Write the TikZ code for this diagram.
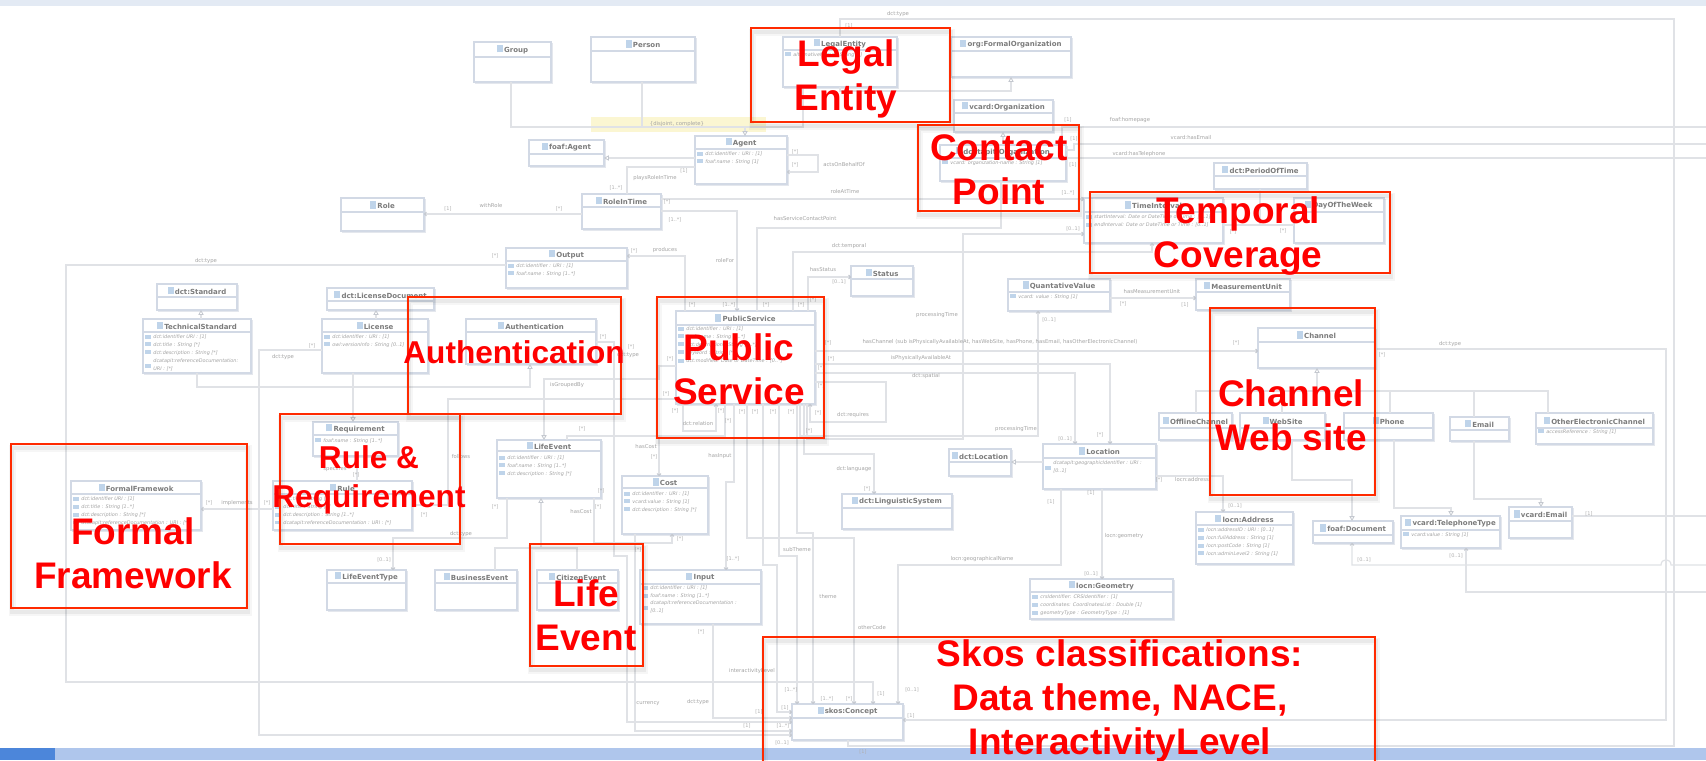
\documentclass[tikz,border=0pt]{standalone}
\usepackage{fontspec}
\setmainfont{DejaVu Sans}
\newfontfamily\redfont{Liberation Sans}
\usetikzlibrary{arrows.meta}
\definecolor{barTop}{HTML}{E3EAF4}
\definecolor{barBot}{HTML}{AFC6EC}
\definecolor{barLeft}{HTML}{4C86DA}
\definecolor{boxEdge}{HTML}{D2D9E5}
\definecolor{boxShade}{HTML}{E4E7ED}
\definecolor{connC}{HTML}{E0E2E6}
\definecolor{arrC}{HTML}{C4C8CF}
\definecolor{iconC}{HTML}{BFD4EA}
\definecolor{titleC}{HTML}{7C7C7C}
\definecolor{attrC}{HTML}{A2A2A2}
\definecolor{labC}{HTML}{A4A4A4}
\definecolor{multC}{HTML}{AFAFAF}
\definecolor{redBox}{HTML}{FF2A00}
\definecolor{noteC}{HTML}{FBF6D2}
\newcount\autonum
\newcommand\ticon{{\color{iconC}\rule{3pt}{3.6pt}}\hspace{.6pt}}
\newcommand\aicon{{\color{iconC}\rule{2.6pt}{2pt}}\hspace{1.4pt}}
\newcommand\cls[7]{%
  \fill[boxShade] (#2+1,#3+1) rectangle (#4+1.6,#5+1.8);
  \node[clsbox,anchor=north west,minimum width={(#4-#2)*0.5pt},minimum height={(#5-#3)*0.5pt}] (#1) at (#2,#3) {};
  \draw[boxEdge,line width=.6pt] (#2,#6) -- (#4,#6);
  \node[clstitle] (#1t) at ({(#2+#4)/2},{(#3+#6)/2}) {\ticon #7};
}
\newcommand\att[3]{\global\advance\autonum by 1
  \node[attrtext] (at\the\autonum) at (#1+2,#2) {\aicon #3};}
\newcommand\rl[3]{\global\advance\autonum by 1
  \node[rellab] (rl\the\autonum) at (#1,#2) {#3};}
\newcommand\ml[3]{\global\advance\autonum by 1
  \node[multlab] (ml\the\autonum) at (#1,#2) {#3};}
\newcommand\redrect[5]{%
  \draw[black,opacity=.035,line width=3.5pt] (#2+1,#3+4) rectangle (#4+1,#5+4);
  \draw[black,opacity=.05,line width=1.8pt] (#2+1,#3+4) rectangle (#4+1,#5+4);
  \node[redframe,anchor=north west,minimum width={(#4-#2)*0.5pt},minimum height={(#5-#3)*0.5pt}] (#1) at (#2,#3) {};
}
\tikzset{
  clsbox/.style={draw=boxEdge,fill=white,line width=.6pt,inner sep=0pt,outer sep=0pt},
  clstitle/.style={inner sep=0pt,text=titleC,font=\fontsize{3.5}{4}\selectfont\bfseries},
  attrtext/.style={inner sep=0pt,anchor=west,text=attrC,font=\fontsize{2.45}{4}\selectfont\itshape,align=left},
  rellab/.style={inner sep=0pt,text=labC,font=\fontsize{2.65}{3.2}\selectfont},
  multlab/.style={inner sep=0pt,text=multC,font=\fontsize{2.5}{3}\selectfont},
  conn/.style={draw=connC,line width=.6pt},
  gen/.style={conn,-{Triangle[color=arrC,fill=white,length=2.4pt,width=2.6pt,line width=.4pt]}},
  asc/.style={conn,-{To[length=1.4pt,width=2.2pt,color=arrC]}},
  redframe/.style={draw=redBox,line width=.95pt,inner sep=0pt,outer sep=0pt},
  redtext/.style={text=red,inner sep=0pt,align=center,font=\redfont\bfseries\fontsize{18.5}{22}\selectfont},
  redsmall/.style={text=red,inner sep=0pt,align=center,font=\redfont\bfseries\fontsize{15.8}{19.4}\selectfont},
}
\begin{document}
\begin{tikzpicture}[x=.5pt,y=-.5pt]
\useasboundingbox (0,0) rectangle (1706,760);
\clip (0,0) rectangle (1706,760);
\fill[white] (0,0) rectangle (1706,760);
\fill[barTop] (0,0) rectangle (1706,6);
\fill[barBot] (0,748) rectangle (1706,760);
\fill[barLeft] (0,748) rectangle (55,760);
\fill[noteC] (591,117) rectangle (766,132);
\node[rellab,text=titleC!70] (noteText) at (677,124) {\{disjoint, complete\}};

% ---- classes
\cls{Group}{474}{42}{551}{82}{57}{Group}
\cls{Person}{591}{37}{695}{82}{51}{Person}
\cls{LegalEnt}{783}{37}{897}{87}{50}{LegalEntity}
\cls{FormalOrg}{951}{37}{1071}{77}{51}{org:FormalOrganization}
\cls{VcardOrg}{954}{100}{1053}{132}{113}{vcard:Organization}
\cls{ContactP}{940}{145}{1066}{181}{158}{dcatapit:Organization}
\cls{Agent}{695}{136}{787}{184}{149}{Agent}
\cls{FoafAgent}{529}{140}{604}{166}{154}{foaf:Agent}
\cls{RoleTime}{582}{194}{661}{229}{207}{RoleInTime}
\cls{Role}{341}{198}{424}{231}{212}{Role}
\cls{Output}{506}{248}{627}{288}{261}{Output}
\cls{DctStd}{157}{284}{237}{310}{297}{dct:Standard}
\cls{LicDoc}{327}{288}{434}{310}{301}{dct:LicenseDocument}
\cls{TechStd}{143}{319}{251}{373}{332}{TechnicalStandard}
\cls{License}{322}{319}{428}{373}{332}{License}
\cls{Auth}{466}{319}{596}{364}{332}{Authentication}
\cls{PubServ}{676}{311}{815}{404}{325}{PublicService}
\cls{Status}{851}{266}{913}{296}{279}{Status}
\cls{TimeInt}{1084}{198}{1223}{243}{212}{TimeInterval}
\cls{Period}{1214}{163}{1307}{189}{176}{dct:PeriodOfTime}
\cls{DayWeek}{1294}{198}{1384}{243}{212}{DayOfTheWeek}
\cls{QuantV}{1008}{279}{1110}{311}{292}{QuantativeValue}
\cls{MeasU}{1196}{279}{1290}{310}{292}{MeasurementUnit}
\cls{Channel}{1258}{328}{1375}{368}{342}{Channel}
\cls{Offline}{1159}{413}{1232}{440}{428}{OfflineChannel}
\cls{WebSite}{1240}{413}{1325}{440}{428}{WebSite}
\cls{Phone}{1344}{413}{1433}{440}{428}{Phone}
\cls{Email}{1450}{417}{1509}{441}{430}{Email}
\cls{OtherCh}{1536}{413}{1653}{444}{428}{OtherElectronicChannel}
\cls{Location}{1043}{444}{1156}{489}{458}{Location}
\cls{DctLoc}{949}{449}{1011}{476}{462}{dct:Location}
\cls{LingSys}{842}{494}{952}{529}{508}{dct:LinguisticSystem}
\cls{Address}{1196}{512}{1293}{564}{525}{locn:Address}
\cls{FoafDoc}{1313}{521}{1393}{543}{535}{foaf:Document}
\cls{TelType}{1401}{516}{1500}{548}{530}{vcard:TelephoneType}
\cls{VEmail}{1509}{507}{1572}{538}{521}{vcard:Email}
\cls{Geometry}{1030}{579}{1173}{619}{592}{locn:Geometry}
\cls{Skos}{792}{704}{903}{740}{718}{skos:Concept}
\cls{Input}{640}{570}{761}{624}{584}{Input}
\cls{Cost}{622}{476}{708}{534}{488}{Cost}
\cls{LifeEv}{497}{440}{601}{498}{451}{LifeEvent}
\cls{Requir}{313}{422}{398}{456}{435}{Requirement}
\cls{Rule}{273}{481}{412}{530}{494}{Rule}
\cls{Formal}{71}{481}{201}{530}{494}{FormalFramewok}
\cls{LifeType}{327}{570}{406}{610}{583}{LifeEventType}
\cls{BusEv}{435}{570}{517}{610}{583}{BusinessEvent}
\cls{CitEv}{537}{570}{618}{610}{583}{CitizenEvent}

% ---- free ends of the lines that leave the picture
\coordinate (offA) at (1706,127);
\coordinate (offB) at (1706,144);
\coordinate (offC) at (1706,158);
\coordinate (offD) at (1706,516);
\coordinate (offE) at (1706,565);
\coordinate (offF) at (1706,592);

% ---- connectors
\draw[conn] (Group.south -| 511,0) -- (511,127) -- (803,127) -- (LegalEnt.south -| 803,0);
\draw[conn] (Person.south -| 642,0) -- (642,127);
\draw[gen] (745,127) -- (Agent.north -| 745,0);
\draw[gen] (LegalEnt.south -| 840,0) -- (840,91) -- (1011,91) -- (FormalOrg.south -| 1011,0);
\draw[gen] (ContactP.north -| 1003,0) -- (VcardOrg.south -| 1003,0);
\draw[conn] (LegalEnt.north -| 840,0) -- (840,19) -- (1674,19) -- (1674,746) -- (848,746) -- (Skos.south -| 848,0);
\draw[gen] (Agent.west |- 0,158) -- (FoafAgent.east |- 0,158);
\draw[conn] (Agent.west |- 0,167) -- (627,167) -- (RoleTime.north -| 627,0);
\draw[asc] (Agent.east |- 0,155) -- (818,155) -- (818,172) -- (Agent.east |- 0,172);
\draw[asc] (RoleTime.west |- 0,214) -- (Role.east |- 0,214);
\draw[asc] (RoleTime.east |- 0,199) -- (TimeInt.west |- 0,199);
\draw[asc] (RoleTime.east |- 0,211) -- (737,211) -- (PubServ.north -| 737,0);
\draw[conn] (PubServ.north -| 757,0) -- (757,228) -- (1001,228) -- (ContactP.south -| 1001,0);
\draw[asc] (PubServ.north -| 793,0) -- (793,252) -- (1152,252) -- (TimeInt.south -| 1152,0);
\draw[asc] (PubServ.north -| 808,0) -- (808,277) -- (Status.west |- 0,277);
\draw[asc] (PubServ.north -| 685,0) -- (685,256) -- (Output.east |- 0,256);
\draw[asc] (Output.west |- 0,265) -- (66,265) -- (66,682) -- (873,682) -- (Skos.north -| 873,0);
\draw[gen] (TechStd.north -| 201,0) -- (DctStd.south -| 201,0);
\draw[gen] (License.north -| 376,0) -- (LicDoc.south -| 376,0);
\draw[gen] (TechStd.south -| 197,0) -- (197,387) -- (530,387) -- (Auth.south -| 530,0);
\draw[gen] (License.south -| 353,0) -- (Requir.north -| 353,0);
\draw[asc] (License.west |- 0,350) -- (259,350) -- (259,735) -- (Skos.west |- 0,735);
\draw[asc] (Auth.east |- 0,342) -- (614,342) -- (614,556) -- (627,556) -- (627,722) -- (Skos.west |- 0,722);
\draw[gen] (PubServ.west |- 0,366) -- (659,366) -- (659,379) -- (544,379) -- (LifeEv.north -| 544,0);
\draw[asc] (PubServ.west |- 0,399) -- (448,399) -- (448,505) -- (Rule.east |- 0,505);
\draw[conn] (Requir.south -| 357,0) -- (Rule.north -| 357,0);
\draw[asc] (Rule.west |- 0,509) -- (Formal.east |- 0,509);
\draw[asc] (LifeEv.south -| 507,0) -- (507,538) -- (393,538) -- (LifeType.north -| 393,0);
\draw[gen] (BusEv.north -| 495,0) -- (495,548) -- (541,548) -- (LifeEv.south -| 541,0);
\draw[conn] (CitEv.north -| 577,0) -- (577,548) -- (541,548);
\draw[asc] (LifeEv.south -| 594,0) -- (594,543) -- (672,543) -- (Cost.south -| 672,0);
\draw[asc] (Cost.south -| 635,0) -- (635,731) -- (Skos.west |- 0,731);
\draw[conn] (LifeEv.north -| 567,0) -- (567,436) -- (725,436) -- (PubServ.south -| 725,0);
\draw[asc] (659,436) -- (Cost.north -| 659,0);
\draw[asc] (PubServ.south -| 734,0) -- (734,482) -- (726,482) -- (Input.north -| 726,0);
\draw[asc] (PubServ.south -| 683,0) -- (683,431) -- (716,431) -- (PubServ.south -| 716,0);
\draw[asc] (PubServ.east |- 0,382) -- (886,382) -- (886,422) -- (810,422) -- (PubServ.south -| 810,0);
\draw[asc] (PubServ.south -| 807,0) -- (807,439) -- (963,439) -- (963,234) -- (TimeInt.west |- 0,234);
\draw[asc] (PubServ.south -| 800,0) -- (800,436) -- (1038,436) -- (QuantV.south -| 1038,0);
\draw[asc] (PubServ.south -| 804,0) -- (804,454) -- (874,454) -- (LingSys.north -| 874,0);
\draw[asc] (PubServ.south -| 747,0) -- (747,538) -- (854,538) -- (Skos.north -| 854,0);
\draw[asc] (PubServ.south -| 763,0) -- (763,565) -- (777,565) -- (777,712) -- (Skos.west |- 0,712);
\draw[asc] (PubServ.south -| 779,0) -- (779,556) -- (797,556) -- (Skos.north -| 797,0);
\draw[asc] (PubServ.south -| 797,0) -- (797,533) -- (813,533) -- (Skos.north -| 813,0);
\draw[asc] (Input.south -| 713,0) -- (713,718) -- (Skos.west |- 0,718);
\draw[asc] (Location.south -| 1061,0) -- (1061,565) -- (898,565) -- (Skos.north -| 898,0);
\draw[asc] (Location.south -| 1102,0) -- (Geometry.north -| 1102,0);
\draw[asc] (Location.east |- 0,476) -- (1223,476) -- (Address.north -| 1223,0);
\draw[gen] (Location.west |- 0,462) -- (DctLoc.east |- 0,462);
\draw[asc] (PubServ.east |- 0,364) -- (1110,364) -- (Location.north -| 1110,0);
\draw[asc] (PubServ.east |- 0,373) -- (1075,373) -- (Location.north -| 1075,0);
\draw[asc] (PubServ.east |- 0,351) -- (Channel.west |- 0,351);
\draw[asc] (Channel.east |- 0,349) -- (1666,349) -- (1666,720) -- (Skos.east |- 0,720);
\draw[asc] (QuantV.east |- 0,298) -- (MeasU.west |- 0,298);
\draw[conn] (ContactP.north -| 1062,0) -- (1062,127) -- (offA);
\draw[conn] (ContactP.east |- 0,150) -- (1074,150) -- (1074,144) -- (offB);
\draw[conn] (ContactP.east |- 0,158) -- (offC);
\draw[conn] (VEmail.east |- 0,516) -- (offD);
\draw[asc] (offF) -- (1466,592) -- (TelType.south -| 1466,0);
\draw[asc] (offE) -- (1671,565) .. controls (1671,558) and (1661,558) .. (1661,565) -- (1352,565) -- (FoafDoc.south -| 1352,0);
\draw[gen] (1317,391) -- (Channel.south -| 1317,0);
\draw[conn] (Offline.north -| 1196,0) -- (1196,391) -- (1548,391) -- (OtherCh.north -| 1548,0);
\draw[conn] (WebSite.north -| 1282,0) -- (1282,391);
\draw[conn] (Phone.north -| 1390,0) -- (1390,391);
\draw[conn] (Email.north -| 1474,0) -- (1474,391);
\draw[gen] (WebSite.south -| 1292,0) -- (1292,480) -- (1352,480) -- (FoafDoc.north -| 1352,0);
\draw[gen] (Phone.south -| 1394,0) -- (1394,508) -- (1451,508) -- (TelType.north -| 1451,0);
\draw[gen] (Email.south -| 1474,0) -- (1474,499) -- (1541,499) -- (VEmail.north -| 1541,0);
\draw[conn] (Period.south -| 1260,0) -- (1260,225);
\draw[conn] (TimeInt.east |- 0,225) -- (DayWeek.west |- 0,225);

% ---- attributes
\att{695}{154}{dct:identifier : URI : [1]}
\att{695}{162}{foaf:name : String [1]}
\att{783}{55}{alternativeName : String [*]}
\att{940}{163}{vcard: organization-name : String [1]}
\att{506}{266}{dct:identifier : URI : [1]}
\att{506}{274}{foaf:name : String [1..*]}
\att{143}{337}{dct:identifier URI : [1]}
\att{143}{345}{dct:title : String [*]}
\att{143}{353}{dct:description : String [*]}
\att{143}{365}{\begin{tabular}[c]{@{}l@{}}dcatapit:referenceDocumentation:\\URI : [*]\end{tabular}}
\att{322}{337}{dct:identifier : URI : [1]}
\att{322}{345}{owl:versionInfo : String [0..1]}
\att{676}{329}{dct:identifier : URI : [1]}
\att{676}{337}{foaf:name : String [1..*]}
\att{676}{345}{dct:description : String [1..*]}
\att{676}{353}{keyword : String [*]}
\att{676}{361}{dct:modified: Date or DateTime : [0..*]}
\att{1084}{217}{startInterval: Date or DateTime or Time : [0..1]}
\att{1084}{225}{endInterval: Date or DateTime or Time : [0..1]}
\att{1008}{297}{vcard: value : String [1]}
\att{1536}{432}{accessReference : String [1]}
\att{1043}{467}{\begin{tabular}[c]{@{}l@{}}dcatapit:geographicIdentifier : URI :\\ {[0..1]}\end{tabular}}
\att{1196}{530}{locn:addressID : URI : [0..1]}
\att{1196}{538}{locn:fullAddress : String [1]}
\att{1196}{546}{locn:postCode : String [1]}
\att{1196}{554}{locn:adminLevel2 : String [1]}
\att{1401}{535}{vcard:value : String [1]}
\att{1030}{597}{crsIdentifier: CRSIdentifier : [1]}
\att{1030}{605}{coordinates: CoordinatesList : Double [1]}
\att{1030}{613}{geometryType : GeometryType : [1]}
\att{640}{588}{dct:identifier : URI : [1]}
\att{640}{596}{foaf:name : String [1..*]}
\att{640}{607}{\begin{tabular}[c]{@{}l@{}}dcatapit:referenceDocumentation :\\ {[0..1]}\end{tabular}}
\att{622}{494}{dct:identifier : URI : [1]}
\att{622}{502}{vcard:value : String [1]}
\att{622}{510}{dct:description : String [*]}
\att{497}{458}{dct:identifier : URI : [1]}
\att{497}{466}{foaf:name : String [1..*]}
\att{497}{474}{dct:description : String [*]}
\att{313}{441}{foaf:name : String [1..*]}
\att{273}{499}{dct:title : String [*]}
\att{273}{507}{dct:title : String [1]}
\att{273}{515}{dct:description : String [1..*]}
\att{273}{523}{dcatapit:referenceDocumentation : URI : [*]}
\att{71}{499}{dct:identifier URI : [1]}
\att{71}{507}{dct:title : String [1..*]}
\att{71}{515}{dct:description : String [*]}
\att{71}{523}{dcatapit:referenceDocumentation : URI : [*]}

% ---- relation names
\rl{898}{14}{dct:type}
\rl{655}{178}{playsRoleInTime}
\rl{844}{165}{actsOnBehalfOf}
\rl{491}{206}{withRole}
\rl{845}{192}{roleAtTime}
\rl{725}{261}{roleFor}
\rl{805}{219}{hasServiceContactPoint}
\rl{849}{246}{dct:temporal}
\rl{823}{270}{hasStatus}
\rl{665}{250}{produces}
\rl{206}{261}{dct:type}
\rl{283}{357}{dct:type}
\rl{628}{355}{dct:type}
\rl{567}{385}{isGroupedBy}
\rl{461}{457}{follows}
\rl{335}{469}{specifies}
\rl{237}{503}{implements}
\rl{461}{534}{dct:type}
\rl{581}{512}{hasCost}
\rl{646}{447}{hasCost}
\rl{720}{456}{hasInput}
\rl{698}{424}{dct:relation}
\rl{853}{415}{dct:requires}
\rl{854}{469}{dct:language}
\rl{648}{704}{currency}
\rl{698}{702}{dct:type}
\rl{752}{671}{interactivityLevel}
\rl{797}{550}{subTheme}
\rl{828}{597}{theme}
\rl{872}{628}{otherCode}
\rl{982}{559}{locn:geographicalName}
\rl{1124}{536}{locn:geometry}
\rl{1192}{480}{locn:address}
\rl{921}{358}{isPhysicallyAvailableAt}
\rl{926}{376}{dct:spatial}
\rl{1000}{342}{hasChannel (sub isPhysicallyAvailableAt, hasWebSite, hasPhone, hasEmail, hasOtherElectronicChannel)}
\rl{1016}{429}{processingTime}
\rl{937}{315}{processingTime}
\rl{1450}{344}{dct:type}
\rl{1152}{292}{hasMeasurementUnit}
\rl{1130}{120}{foaf:homepage}
\rl{1191}{138}{vcard:hasEmail}
\rl{1139}{154}{vcard:hasTelephone}

% ---- multiplicities
\ml{849}{26}{[1]}
\ml{684}{171}{[1]}\ml{616}{188}{[1..*]}
\ml{795}{152}{[*]}\ml{795}{165}{[*]}
\ml{448}{209}{[1]}\ml{559}{209}{[*]}
\ml{1068}{193}{[1..*]}\ml{667}{202}{[*]}
\ml{675}{220}{[1..*]}\ml{729}{305}{[1..*]}
\ml{766}{305}{[*]}\ml{801}{305}{[*]}\ml{813}{300}{[*]}
\ml{839}{282}{[0..1]}
\ml{634}{251}{[*]}\ml{692}{305}{[*]}
\ml{495}{256}{[*]}\ml{312}{346}{[*]}
\ml{603}{337}{[*]}\ml{631}{347}{[*]}
\ml{670}{359}{[*]}\ml{666}{394}{[*]}
\ml{424}{515}{[*]}\ml{356}{475}{[*]}
\ml{209}{503}{[*]}\ml{267}{503}{[*]}
\ml{384}{560}{[0..1]}\ml{495}{507}{[*]}
\ml{598}{507}{[*]}\ml{601}{491}{[*]}
\ml{680}{539}{[*]}\ml{638}{550}{[*]}
\ml{582}{429}{[*]}\ml{654}{457}{[*]}
\ml{675}{411}{[*]}\ml{721}{411}{[*]}\ml{728}{421}{[*]}
\ml{742}{412}{[*]}\ml{755}{412}{[*]}\ml{773}{412}{[*]}\ml{791}{412}{[*]}
\ml{809}{431}{[*]}\ml{818}{413}{[*]}\ml{821}{386}{[*]}
\ml{733}{559}{[1..*]}\ml{701}{632}{[*]}\ml{867}{489}{[*]}
\ml{759}{712}{[1]}\ml{747}{726}{[1]}\ml{783}{726}{[1..*]}
\ml{782}{743}{[0..1]}\ml{785}{708}{[1]}
\ml{791}{690}{[1..*]}\ml{827}{699}{[1..*]}\ml{849}{699}{[*]}
\ml{881}{694}{[1]}\ml{912}{690}{[0..1]}\ml{911}{716}{[1]}
\ml{863}{752}{[1]}
\ml{1073}{229}{[0..1]}\ml{1233}{232}{[*]}\ml{1283}{231}{[*]}
\ml{1051}{502}{[1]}\ml{1091}{493}{[1]}\ml{1091}{574}{[0..1]}
\ml{1159}{480}{[*]}\ml{1235}{506}{[0..1]}
\ml{831}{359}{[*]}\ml{1100}{435}{[*]}\ml{821}{368}{[*]}
\ml{1065}{439}{[0..1]}\ml{828}{343}{[*]}\ml{1236}{343}{[*]}
\ml{1382}{355}{[*]}\ml{1049}{320}{[0..1]}
\ml{1123}{304}{[*]}\ml{1185}{305}{[1]}
\ml{1068}{120}{[1]}\ml{1074}{139}{[1]}\ml{1073}{165}{[1]}
\ml{1589}{514}{[1]}\ml{1456}{556}{[0..1]}\ml{1364}{560}{[0..1]}

% ---- red call-outs
\redrect{rLegal}{751}{28}{950}{122}
\redrect{rContact}{918}{125}{1079}{211}
\redrect{rTemporal}{1090}{192}{1390}{273}
\redrect{rChannel}{1210}{308}{1375}{495}
\redrect{rAuth}{408}{297}{621}{414}
\redrect{rPublic}{657}{297}{824}{438}
\redrect{rRule}{280}{414}{460}{544}
\redrect{rFormal}{11}{444}{247}{608}
\redrect{rLife}{530}{544}{643}{666}
\redrect{rSkos}{763}{637}{1375}{790}
\node[redtext] (tLegal) at (846,79) {Legal\\Entity};
\node[redtext] (tContact) at (999,170) {Contact\\Point};
\node[redtext] (tTemporal) at (1238,236) {Temporal\\Coverage};
\node[redtext] (tChannel) at (1291,415) {Channel\\Web site};
\node[redsmall] (tAuth) at (514,352) {Authentication};
\node[redtext] (tPublic) at (739,369) {Public\\Service};
\node[redsmall] (tRule) at (369,480) {Rule \&\\Requirement};
\node[redtext] (tFormal) at (133,553) {Formal\\Framework};
\node[redtext] (tLife) at (586,615) {Life\\Event};
\node[redtext] (tSkos) at (1120,701) {Skos classifications:\\Data theme, NACE,\\InteractivityLevel};
\end{tikzpicture}
\end{document}
